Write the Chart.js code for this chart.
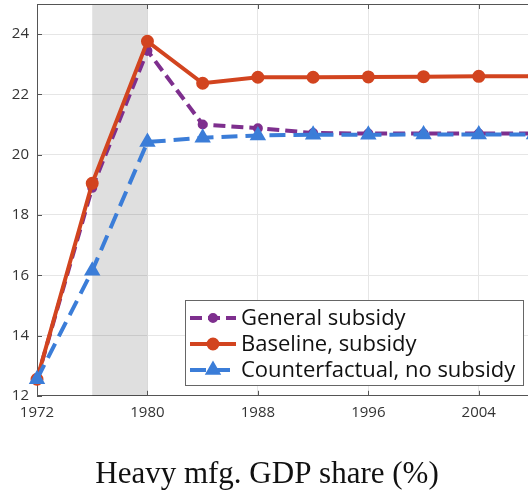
<!DOCTYPE html>
<html>
<head>
<meta charset="utf-8">
<script src="https://cdn.jsdelivr.net/npm/chart.js@4.4.0/dist/chart.umd.min.js"></script>
<style>
  body { margin: 0; overflow: hidden; background: #fff; }
  canvas { display: block; }
</style>
</head>
<body>
<canvas id="chart" width="534" height="499"></canvas>
<script>
// data
const years = [1972, 1976, 1980, 1984, 1988, 1992, 1996, 2000, 2004, 2008];
const generalSubsidy = [12.55, 18.9, 23.45, 21.0, 20.88, 20.72, 20.7, 20.7, 20.7, 20.7];
const baseline = [12.55, 19.05, 23.76, 22.37, 22.57, 22.57, 22.58, 22.59, 22.6, 22.6];
const counterfactual = [12.55, 16.15, 20.42, 20.56, 20.64, 20.66, 20.66, 20.67, 20.67, 20.67];
const xTicks = [1972, 1980, 1988, 1996, 2004];
const yTicks = [12, 14, 16, 18, 20, 22, 24];
const shadeRange = [1976, 1980];

const PURPLE = '#7e2f8e';
const RED = '#d2441f';
const BLUE = '#3b7dd8';

function pts(arr) {
    return years.map((yr, i) => ({ x: yr, y: arr[i] }));
}

const legendItems = [
    { label: 'General subsidy', color: PURPLE, dash: [12, 6], point: 'circle', r: 3 },
    { label: 'Baseline, subsidy', color: RED, dash: [], point: 'circle', r: 4.5 },
    { label: 'Counterfactual, no subsidy', color: BLUE, dash: [16, 8], point: 'triangle', r: 5.5 }
];

// gray band + inside tick marks + top border + legend box
const framePlugin = {
    id: 'frame',
    beforeDatasetsDraw(chart) {
        const { ctx, chartArea, scales } = chart;
        const x0 = scales.x.getPixelForValue(shadeRange[0]);
        const x1 = scales.x.getPixelForValue(shadeRange[1]);
        ctx.save();
        ctx.fillStyle = 'rgba(0,0,0,0.125)';
        ctx.fillRect(x0, chartArea.top, x1 - x0, chartArea.bottom - chartArea.top);
        ctx.restore();
    },
    afterDatasetsDraw(chart) {
        const { ctx, chartArea, scales } = chart;
        ctx.save();
        ctx.strokeStyle = '#555';
        ctx.lineWidth = 1;
        ctx.beginPath();
        ctx.moveTo(chartArea.left, chartArea.top + 0.5);
        ctx.lineTo(chartArea.right, chartArea.top + 0.5);
        xTicks.forEach(t => {
            const px = Math.round(scales.x.getPixelForValue(t)) + 0.5;
            ctx.moveTo(px, chartArea.bottom);
            ctx.lineTo(px, chartArea.bottom - 5);
            ctx.moveTo(px, chartArea.top);
            ctx.lineTo(px, chartArea.top + 5);
        });
        yTicks.forEach(t => {
            const py = Math.round(scales.y.getPixelForValue(t)) + 0.5;
            ctx.moveTo(chartArea.left, py);
            ctx.lineTo(chartArea.left + 5, py);
        });
        ctx.stroke();
        ctx.restore();
    },
    afterDraw(chart) {
        const { ctx } = chart;
        const bx = 185, by = 300, bw = 338, bh = 85;
        ctx.save();
        ctx.fillStyle = '#fff';
        ctx.fillRect(bx, by, bw, bh);
        ctx.strokeStyle = '#666';
        ctx.lineWidth = 1;
        ctx.strokeRect(bx + 0.5, by + 0.5, bw, bh);
        ctx.font = '22px "Open Sans"';
        ctx.textBaseline = 'middle';
        legendItems.forEach((it, i) => {
            const cy = 318 + i * 26;
            ctx.strokeStyle = it.color;
            ctx.fillStyle = it.color;
            ctx.lineWidth = 4;
            ctx.setLineDash(it.dash);
            ctx.beginPath();
            ctx.moveTo(190, cy);
            ctx.lineTo(236, cy);
            ctx.stroke();
            ctx.setLineDash([]);
            Chart.helpers.drawPoint(ctx, { pointStyle: it.point, radius: it.r, rotation: 0, borderWidth: 1 }, 213, cy);
            ctx.fill();
            ctx.fillStyle = '#111';
            ctx.fillText(it.label, 241, cy + 1);
        });
        ctx.restore();
    }
};

new Chart(document.getElementById('chart'), {
    type: 'line',
    data: {
        datasets: [{
            label: 'General subsidy',
            data: pts(generalSubsidy),
            borderColor: PURPLE,
            backgroundColor: PURPLE,
            borderWidth: 4,
            borderDash: [12, 6],
            pointRadius: 3,
            pointStyle: 'circle',
            order: 2
        }, {
            label: 'Baseline, subsidy',
            data: pts(baseline),
            borderColor: RED,
            backgroundColor: RED,
            borderWidth: 4,
            pointRadius: 4.5,
            pointStyle: 'circle',
            order: 1
        }, {
            label: 'Counterfactual, no subsidy',
            data: pts(counterfactual),
            borderColor: BLUE,
            backgroundColor: BLUE,
            borderWidth: 4,
            borderDash: [16, 8],
            pointRadius: 5.5,
            pointStyle: 'triangle',
            order: 0
        }]
    },
    options: {
        responsive: false,
        animation: false,
        clip: false,
        layout: { autoPadding: false, padding: { top: 4, left: 0, right: 0, bottom: 0 } },
        plugins: {
            legend: { display: false },
            tooltip: { enabled: false },
            title: {
                display: true,
                text: 'Heavy mfg. GDP share (%)',
                position: 'bottom',
                color: '#111',
                font: { family: '"Liberation Serif", serif', size: 31, weight: 'normal', lineHeight: 1.2 },
                padding: { top: 0, bottom: 6 }
            }
        },
        scales: {
            x: {
                type: 'linear',
                min: 1972,
                max: 2008,
                afterBuildTicks: s => { s.ticks = xTicks.map(v => ({ value: v })); },
                afterFit: s => { s.height = 60; s.paddingLeft = 0; s.paddingRight = 0; },
                grid: { color: '#e6e6e6', drawTicks: false },
                border: { color: '#555', width: 1 },
                ticks: {
                    padding: 8,
                    color: '#333',
                    font: { family: '"Open Sans"', size: 15 },
                    maxRotation: 0,
                    callback: v => String(v)
                }
            },
            y: {
                min: 12,
                max: 25,
                afterBuildTicks: s => { s.ticks = yTicks.map(v => ({ value: v })); },
                afterFit: s => { s.width = 37; s.paddingTop = 0; s.paddingBottom = 0; },
                grid: { color: '#e6e6e6', drawTicks: false },
                border: { color: '#555', width: 1 },
                ticks: {
                    padding: 8,
                    color: '#333',
                    font: { family: '"Open Sans"', size: 15 }
                }
            }
        }
    },
    plugins: [framePlugin]
});
</script>
</body>
</html>
